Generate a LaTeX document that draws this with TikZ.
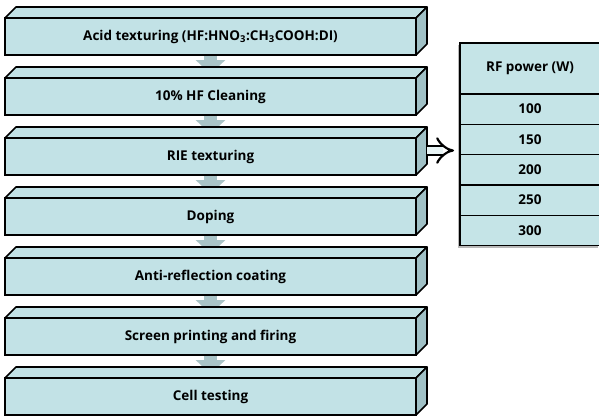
\documentclass[tikz,border=0pt]{standalone}
\usepackage{fontspec}
\setmainfont{Open Sans}
\usetikzlibrary{positioning,arrows.meta,shadows}

\definecolor{slabfront}{RGB}{194,226,230}
\definecolor{slabside}{RGB}{160,193,198}
\definecolor{flowgray}{RGB}{170,196,199}
\definecolor{cellfill}{RGB}{197,228,231}

\tikzset{
	stepbox/.style={draw=black, line width=1.6pt, fill=slabfront, inner sep=0pt, outer sep=0pt,
		minimum width=411pt, minimum height=37pt, font=\bfseries\fontsize{13.5}{16}\selectfont},
	cellbox/.style={draw=black, line width=1.2pt, fill=cellfill, inner sep=0pt, outer sep=0pt,
		minimum width=140pt, minimum height=30.3pt, font=\bfseries\fontsize{13.5}{16}\selectfont,
		drop shadow={shadow xshift=-2pt, shadow yshift=-2pt, opacity=0.55}},
	flow/.style={draw=flowgray, line width=13pt, -{Triangle[width=29pt, length=14pt]}},
}

\begin{document}
\begin{tikzpicture}[x=1pt, y=-1pt]
	\tikzset{>=stealth}
	\useasboundingbox (0,0) rectangle (599,418);

	% process steps, front faces
	\node[stepbox] (acid) at (210.5,36.5) {Acid texturing (HF:HNO\textsubscript{3}:CH\textsubscript{3}COOH:DI)};
	\node[stepbox, below=23pt of acid] (clean) {10\% HF Cleaning};
	\node[stepbox, below=23pt of clean] (rie) {RIE texturing};
	\node[stepbox, below=23pt of rie] (doping) {Doping};
	\node[stepbox, below=23pt of doping] (arc) {Anti-reflection coating};
	\node[stepbox, below=23pt of arc] (print) {Screen printing and firing};
	\node[stepbox, below=23pt of print] (test) {Cell testing};

	% gray arrows between the steps
	\foreach \a/\b in {acid/clean, clean/rie, rie/doping, doping/arc, arc/print, print/test}
		\draw[flow, shorten <=1pt, shorten >=4pt] (\a.south) -- (\b.north);

	% top and side faces
	\newcommand \Depth{11}
	\foreach \s in {acid, clean, rie, doping, arc, print, test} {
		\draw[line width=1.6pt, line join=round, fill=slabfront]
			(\s.north west) -- ++(\Depth,-\Depth) -- ([shift={(\Depth,-\Depth)}]\s.north east) -- (\s.north east) -- cycle;
		\draw[line width=1.6pt, line join=round, fill=slabside]
			(\s.north east) -- ++(\Depth,-\Depth) -- ([shift={(\Depth,-\Depth)}]\s.south east) -- (\s.south east) -- cycle;
	}

	% RF power table
	\node[cellbox, minimum height=51pt] (rfhead) at (530,68.5) {RF power (W)};
	\node[cellbox, below=0pt of rfhead] (rf100) {100};
	\node[cellbox, below=0pt of rf100] (rf150) {150};
	\node[cellbox, below=0pt of rf150] (rf200) {200};
	\node[cellbox, below=0pt of rf200] (rf250) {250};
	\node[cellbox, below=0pt of rf250] (rf300) {300};

	\coordinate (rieside) at ([shift={(\Depth,-6)}]rie.east);
	\draw[line width=2.2pt, double=cellfill!40!white, double distance=7pt, -{Implies}, shorten >=6pt]
		(rieside) -- (rieside -| rfhead.west);
\end{tikzpicture}
\end{document}
